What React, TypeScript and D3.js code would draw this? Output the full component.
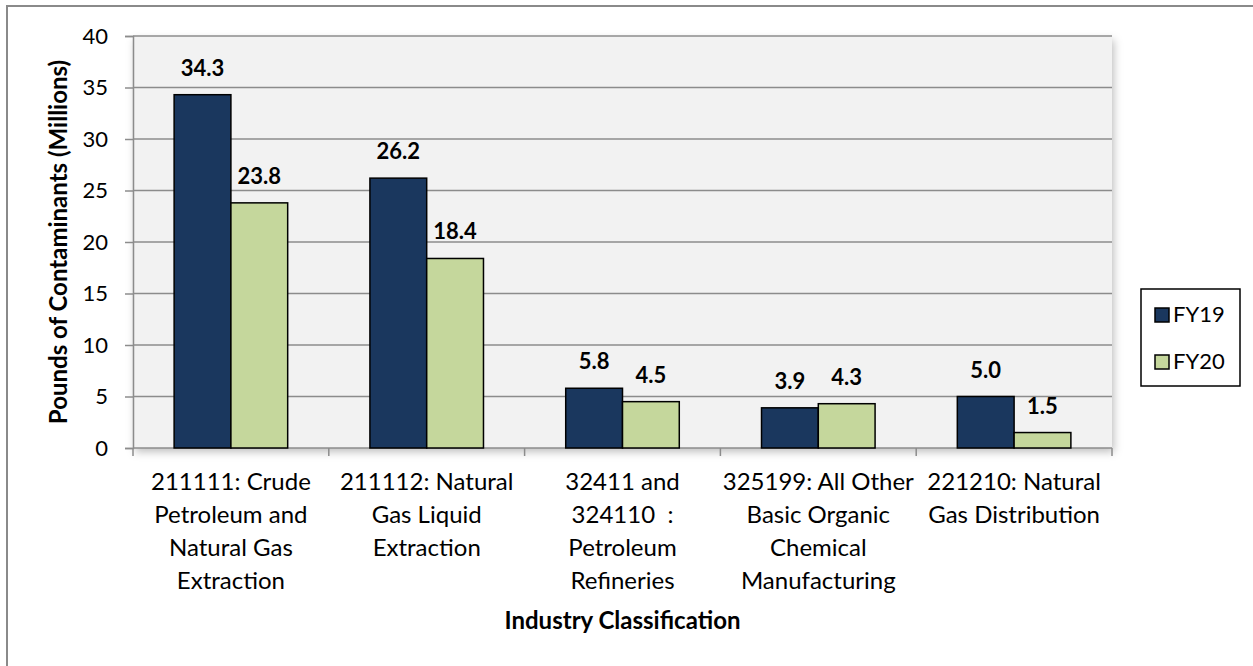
import React, { useEffect, useRef } from 'react'
import * as d3 from 'd3'

const categories = [
  '211111: Crude Petroleum and Natural Gas Extraction',
  '211112: Natural Gas Liquid Extraction',
  '32411 and 324110 : Petroleum Refineries',
  '325199: All Other Basic Organic Chemical Manufacturing',
  '221210: Natural Gas Distribution',
]
const categoryLines = [
  ['211111: Crude', 'Petroleum and', 'Natural Gas', 'Extraction'],
  ['211112: Natural', 'Gas Liquid', 'Extraction'],
  ['32411 and', '324110  :', 'Petroleum', 'Refineries'],
  ['325199: All Other', 'Basic Organic', 'Chemical', 'Manufacturing'],
  ['221210: Natural', 'Gas Distribution'],
]
const seriesNames = ['FY19', 'FY20']
const fy19 = [34.3, 26.2, 5.8, 3.9, 5.0]
const fy20 = [23.8, 18.4, 4.5, 4.3, 1.5]
const yTicks = [0, 5, 10, 15, 20, 25, 30, 35, 40]

const colors = ['#1a375e', '#c5d79c']
const FONT = 'Lato, "Noto Sans", sans-serif'

const App = () => {
  const ref = useRef<SVGSVGElement>(null)

  useEffect(() => {
    draw()
  }, [])

  const draw = () => {
    const svg = d3.select(ref.current)
    svg.selectAll('*').remove()

    const left = 133
    const top = 36
    const right = 1112
    const bottom = 448
    const width = right - left
    const height = bottom - top

    const defs = svg.append('defs')
    const filter = defs
      .append('filter')
      .attr('id', 'plotShadow')
      .attr('x', '-5%')
      .attr('y', '-5%')
      .attr('width', '110%')
      .attr('height', '115%')
    filter
      .append('feDropShadow')
      .attr('dx', 2)
      .attr('dy', 4)
      .attr('stdDeviation', 4)
      .attr('flood-color', '#000')
      .attr('flood-opacity', 0.25)

    // outer frame (only top and left visible)
    svg.append('rect').attr('width', 1253).attr('height', 666).attr('fill', '#fff')
    svg
      .append('path')
      .attr('d', 'M7,666 L7,6 L1253,6')
      .attr('fill', 'none')
      .attr('stroke', '#8a8a8a')
      .attr('stroke-width', 2)

    const g = svg.append('g').attr('transform', `translate(${left},${top})`)

    g.append('rect')
      .attr('width', width)
      .attr('height', height)
      .attr('fill', '#f2f2f2')
      .attr('filter', 'url(#plotShadow)')

    const x0 = d3
      .scaleBand()
      .domain(categories)
      .range([0, width])
      .paddingInner(0.42)
      .paddingOuter(0.21)
    const x1 = d3.scaleBand().domain(seriesNames).range([0, x0.bandwidth()])
    const y = d3.scaleLinear().domain([0, 40]).range([height, 0])

    // gridlines
    g.append('g')
      .selectAll('line')
      .data(yTicks.filter((t) => t > 0))
      .enter()
      .append('line')
      .attr('x1', 0)
      .attr('x2', width)
      .attr('y1', (d) => y(d))
      .attr('y2', (d) => y(d))
      .attr('stroke', '#8c8c8c')
      .attr('stroke-width', 1.5)

    // y axis
    const yAxis = g
      .append('g')
      .call(d3.axisLeft(y).tickValues(yTicks).tickSize(8).tickPadding(17).tickFormat(d3.format('d')))
    yAxis.select('.domain').attr('stroke', '#8c8c8c').attr('stroke-width', 1.5)
    yAxis.selectAll('.tick line').attr('stroke', '#8c8c8c').attr('stroke-width', 1.5)
    yAxis
      .selectAll('.tick text')
      .attr('font-family', FONT)
      .attr('font-size', 22)
      .attr('fill', '#000')

    // x axis
    const xBounds = d3.range(categories.length + 1).map((i) => (width / categories.length) * i)
    const xAxis = g.append('g').attr('transform', `translate(0,${height})`)
    xAxis
      .append('line')
      .attr('x1', 0)
      .attr('x2', width)
      .attr('stroke', '#8c8c8c')
      .attr('stroke-width', 1.5)
    xAxis
      .selectAll('.xt')
      .data(xBounds)
      .enter()
      .append('line')
      .attr('class', 'xt')
      .attr('x1', (d) => d)
      .attr('x2', (d) => d)
      .attr('y1', 0)
      .attr('y2', 8)
      .attr('stroke', '#8c8c8c')
      .attr('stroke-width', 1.5)

    // bars
    const seriesData = [fy19, fy20]
    const groups = g
      .append('g')
      .selectAll('g')
      .data(categories)
      .enter()
      .append('g')
      .attr('transform', (d) => `translate(${x0(d)},0)`)

    groups
      .selectAll('rect')
      .data((_, i) => seriesNames.map((s, j) => ({ s, v: seriesData[j][i] })))
      .enter()
      .append('rect')
      .attr('x', (d) => x1(d.s) as number)
      .attr('y', (d) => y(d.v))
      .attr('width', x1.bandwidth())
      .attr('height', (d) => height - y(d.v))
      .attr('fill', (d, j) => colors[j])
      .attr('stroke', '#000')
      .attr('stroke-width', 1.5)

    groups
      .selectAll('text')
      .data((_, i) => seriesNames.map((s, j) => ({ s, v: seriesData[j][i] })))
      .enter()
      .append('text')
      .attr('x', (d) => (x1(d.s) as number) + x1.bandwidth() / 2)
      .attr('y', (d) => y(d.v) - 19)
      .attr('text-anchor', 'middle')
      .attr('font-family', FONT)
      .attr('font-weight', 'bold')
      .attr('font-size', 22)
      .attr('fill', '#000')
      .text((d) => d3.format('.1f')(d.v))

    // category labels
    const labels = g
      .append('g')
      .selectAll('text')
      .data(categories)
      .enter()
      .append('text')
      .attr('text-anchor', 'middle')
      .attr('font-family', FONT)
      .attr('font-size', 24)
      .attr('fill', '#000')
      .attr('transform', (d) => `translate(${(x0(d) as number) + x0.bandwidth() / 2},${height + 42})`)
    labels
      .selectAll('tspan')
      .data((_, i) => categoryLines[i])
      .enter()
      .append('tspan')
      .attr('x', 0)
      .attr('y', (_, i) => i * 33)
      .attr('xml:space', 'preserve')
      .style('white-space', 'pre')
      .text((d) => d)

    // axis titles
    svg
      .append('text')
      .attr('x', left + width / 2)
      .attr('y', 629)
      .attr('text-anchor', 'middle')
      .attr('font-family', FONT)
      .attr('font-weight', 'bold')
      .attr('font-size', 24)
      .text('Industry Classification')

    svg
      .append('text')
      .attr('transform', `translate(67,${top + height / 2}) rotate(-90)`)
      .attr('text-anchor', 'middle')
      .attr('font-family', FONT)
      .attr('font-weight', 'bold')
      .attr('font-size', 24)
      .text('Pounds of Contaminants (Millions)')

    // legend
    const legend = svg.append('g').attr('transform', 'translate(1141,289)')
    legend
      .append('rect')
      .attr('width', 99)
      .attr('height', 97)
      .attr('fill', '#fff')
      .attr('stroke', '#000')
      .attr('stroke-width', 1.5)
    const items = legend
      .selectAll('.li')
      .data(seriesNames)
      .enter()
      .append('g')
      .attr('class', 'li')
      .attr('transform', (_, i) => `translate(14,${19 + i * 47})`)
    items
      .append('rect')
      .attr('width', 14)
      .attr('height', 14)
      .attr('fill', (_, i) => colors[i])
      .attr('stroke', '#000')
      .attr('stroke-width', 1.5)
    items
      .append('text')
      .attr('x', 18)
      .attr('y', 14)
      .attr('font-family', FONT)
      .attr('font-size', 22)
      .text((d) => d)
  }

  return (
    <svg
      ref={ref}
      width={1253}
      height={666}
      style={{ position: 'absolute', left: 0, top: 0, display: 'block' }}
    />
  )
}

export default App
